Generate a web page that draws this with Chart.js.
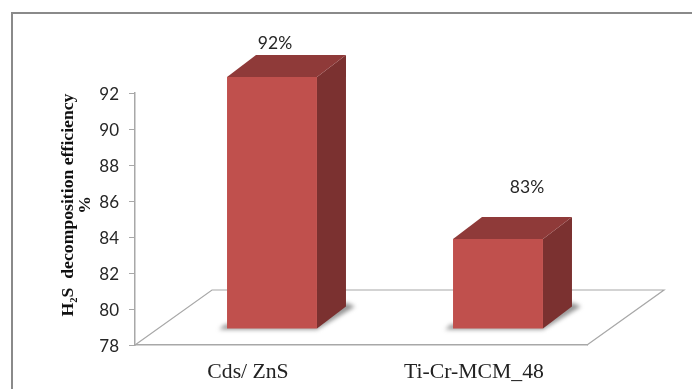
<!DOCTYPE html>
<html>
<head>
<meta charset="utf-8">
<style>
  html, body { margin: 0; padding: 0; background: #fff; }
  #wrap { position: relative; width: 692px; height: 389px; overflow: hidden; }
  #frame { position: absolute; left: 11px; top: 12px; width: 720px; height: 420px; border: 2px solid #8a8a8a; box-sizing: border-box; }
  canvas { position: absolute; left: 0; top: 0; }
</style>
<script src="https://cdn.jsdelivr.net/npm/chart.js@4"></script>
</head>
<body>
<div id="wrap">
  <div id="frame"></div>
  <canvas id="myChart" width="692" height="389"></canvas>
</div>
<script>
const categories = ['Cds/ ZnS', 'Ti-Cr-MCM_48'];
const efficiency = [92, 83];
const barLabels = ['92%', '83%'];
const yTicks = [78, 80, 82, 84, 86, 88, 90, 92];
const axisTitle = ['H\u2082S  decomposition efficiency', '%'];

// bars sit on a floor that is drawn in oblique projection
const shiftX = 24, shiftY = -16;
const depthX = 29, depthY = -22;
const floorX = 77, floorY = -55;

const fake3d = {
    id: 'fake3d',
    beforeDatasetsDraw(chart) {
        const { ctx, chartArea: a } = chart;
        // floor
        ctx.save();
        ctx.strokeStyle = '#a8a8a8';
        ctx.lineWidth = 1.2;
        ctx.beginPath();
        ctx.moveTo(a.left, a.bottom);
        ctx.lineTo(a.left + floorX, a.bottom + floorY);
        ctx.lineTo(a.right + floorX, a.bottom + floorY);
        ctx.lineTo(a.right, a.bottom);
        ctx.stroke();
        ctx.restore();

        // shadow and side / top faces, then shift so the bar fronts land on the floor
        const bars = chart.getDatasetMeta(0).data;
        ctx.save();
        ctx.translate(shiftX, shiftY);
        bars.forEach(b => {
            const l = b.x - b.width / 2, r = b.x + b.width / 2;
            ctx.save();
            ctx.filter = 'blur(2px)';
            ctx.fillStyle = 'rgba(90,90,90,0.65)';
            ctx.beginPath();
            ctx.moveTo(l - 8, b.base + 1);
            ctx.lineTo(r, b.base + 1);
            ctx.lineTo(r + depthX + 9, b.base + depthY);
            ctx.lineTo(r + depthX, b.base + depthY - 4);
            ctx.lineTo(r, b.base - 4);
            ctx.lineTo(l - 2, b.base - 4);
            ctx.closePath();
            ctx.fill();
            ctx.restore();

            ctx.fillStyle = '#7b3130';
            ctx.beginPath();
            ctx.moveTo(r, b.y);
            ctx.lineTo(r + depthX, b.y + depthY);
            ctx.lineTo(r + depthX, b.base + depthY);
            ctx.lineTo(r, b.base);
            ctx.closePath();
            ctx.fill();

            ctx.fillStyle = '#8f3a39';
            ctx.beginPath();
            ctx.moveTo(l, b.y);
            ctx.lineTo(l + depthX, b.y + depthY);
            ctx.lineTo(r + depthX, b.y + depthY);
            ctx.lineTo(r, b.y);
            ctx.closePath();
            ctx.fill();
        });
        ctx.restore();

        ctx.save();
        ctx.translate(shiftX, shiftY);
    },
    afterDatasetsDraw(chart) {
        const { ctx } = chart;
        ctx.restore();
        // value labels above the bars
        const bars = chart.getDatasetMeta(0).data;
        const labelOffset = [[3, -34], [29, -52]];
        ctx.save();
        ctx.font = '17.5px Lato';
        ctx.fillStyle = '#262626';
        ctx.textAlign = 'center';
        ctx.textBaseline = 'middle';
        bars.forEach((b, i) => {
            ctx.fillText(barLabels[i], b.x + shiftX + labelOffset[i][0], b.y + shiftY + labelOffset[i][1]);
        });
        ctx.restore();

        // axis title sits above the middle of the axis, the built-in one can't do that
        ctx.save();
        ctx.font = 'bold 17.7px "Liberation Serif"';
        ctx.fillStyle = '#111';
        ctx.textAlign = 'center';
        ctx.textBaseline = 'middle';
        ctx.translate(68, 205);
        ctx.rotate(-Math.PI / 2);
        ctx.fillText(axisTitle[0], 0, 0);
        ctx.fillText(axisTitle[1], 0, 17);
        ctx.restore();
    }
};

new Chart(document.getElementById('myChart').getContext('2d'), {
    type: 'bar',
    data: {
        labels: categories,
        datasets: [{
            data: efficiency,
            base: yTicks[0],
            backgroundColor: '#c0504d',
            barPercentage: 0.398,
            categoryPercentage: 1
        }]
    },
    options: {
        responsive: false,
        animation: false,
        layout: { padding: { left: 59, top: 93, right: 105, bottom: 0 } },
        plugins: { legend: { display: false }, tooltip: { enabled: false } },
        scales: {
            x: {
                afterFit(axis) { axis.height = 44; },
                grid: { display: false, drawOnChartArea: false, tickLength: 6, tickColor: '#a8a8a8' },
                border: { color: '#a8a8a8', width: 1.5 },
                ticks: { color: '#222', font: { family: 'Liberation Serif', size: 21.7 }, padding: 8 }
            },
            y: {
                min: yTicks[0],
                max: yTicks[yTicks.length - 1],
                afterBuildTicks(axis) { axis.ticks = yTicks.map(v => ({ value: v })); },
                afterFit(axis) { axis.width = 76; },
                grid: { drawOnChartArea: false, tickLength: 6, tickColor: '#a8a8a8' },
                border: { color: '#a8a8a8', width: 1.5 },
                // empty first line nudges the label down 2px, Lato sits high
                ticks: {
                    color: '#262626',
                    font: { family: 'Lato', size: 17, lineHeight: '4px' },
                    padding: 10,
                    callback: v => ['', String(v)]
                }
            }
        }
    },
    plugins: [fake3d]
});
</script>
</body>
</html>
